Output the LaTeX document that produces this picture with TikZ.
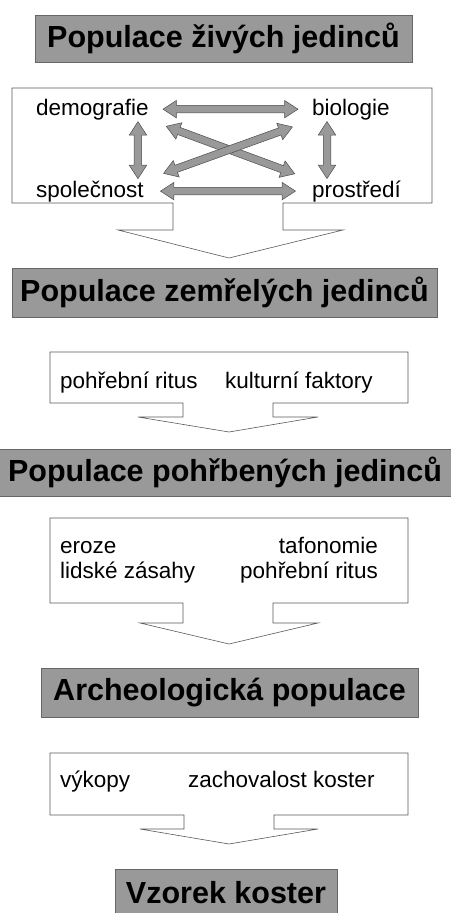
\documentclass[tikz,border=0pt]{standalone}
\usepackage{fontspec}
\setmainfont{Liberation Sans}
\usetikzlibrary{shapes.arrows}

\tikzset{
  titlebox/.style={draw=black!60, fill=black!40, inner sep=0pt,
    font=\bfseries\fontsize{30.5}{30}\selectfont},
  lbl/.style={inner sep=0pt, font=\fontsize{22.5}{27}\selectfont},
  outline/.style={draw=black!65, line width=0.6pt},
  fatarrow/.style={double arrow, draw=black!70, fill=black!40, inner sep=3.5pt,
    minimum width=17pt, double arrow head extend=5pt, double arrow tip angle=66,
    line width=0.5pt}
}

\begin{document}
\begin{tikzpicture}[x=1pt,y=-1pt]
            \useasboundingbox (0,0) rectangle (450,913);

            % titles
            \node[titlebox, minimum width=377pt, minimum height=47pt] (t1) at (223.5,38.5) {Populace živých jedinců};
            \node[titlebox, minimum width=425pt, minimum height=49pt] (t2) at (224.5,292.5) {Populace zemřelých jedinců};
            \node[titlebox, minimum width=454pt, minimum height=47pt] (t3) at (225,472.5) {Populace pohřbených jedinců};
            \node[titlebox, minimum width=377pt, minimum height=49pt] (t4) at (229.5,692.5) {Archeologická populace};
            \node[titlebox, minimum width=222pt, minimum height=48pt] (t5) at (226,893) {Vzorek koster};

            % boxes with arrows
            \draw[outline] (12,88) -- (432,88) -- (432,203) -- (283,203) -- (283,230) -- (343,230)
                -- (229,258) -- (118,230) -- (173,230) -- (173,203) -- (12,203) -- cycle;
            \draw[outline] (50,352) -- (408,352) -- (408,403) -- (273,403) -- (273,417) -- (318,417)
                -- (229,432) -- (138,417) -- (183,417) -- (183,403) -- (50,403) -- cycle;
            \draw[outline] (50,518) -- (408,518) -- (408,603) -- (273,603) -- (273,623) -- (318,623)
                -- (229,644) -- (140,623) -- (183,623) -- (183,603) -- (50,603) -- cycle;
            \draw[outline] (50,753) -- (408,753) -- (408,815) -- (274,815) -- (274,829) -- (318,829)
                -- (229,844) -- (140,829) -- (184,829) -- (184,815) -- (50,815) -- cycle;

            % factors
            \node[lbl, anchor=base west] (demo) at (36,115)  {demografie};
            \node[lbl, anchor=base west] (bio)  at (312,115) {biologie};
            \node[lbl, anchor=base west] (spol) at (36,197)  {společnost};
            \node[lbl, anchor=base west] (pros) at (312,197) {prostředí};

            \node[lbl, anchor=base west] (ritus)  at (60,388)  {pohřební ritus};
            \node[lbl, anchor=base west] (kult)   at (225,388) {kulturní faktory};

            \node[lbl, anchor=base west] (eroze)  at (60,553)  {eroze};
            \node[lbl, anchor=base east] (tafo)   at (378,553) {tafonomie};
            \node[lbl, anchor=base west] (lidske) at (60,578)  {lidské zásahy};
            \node[lbl, anchor=base east] (ritus2) at (378,578) {pohřební ritus};

            \node[lbl, anchor=base west] (vykopy) at (60,787)  {výkopy};
            \node[lbl, anchor=base west] (zachov) at (188,787) {zachovalost koster};

            % interactions
            \path (demo.east) -- node[fatarrow, sloped, minimum height=135pt] {} (bio.west);
            \path (spol.east) -- node[fatarrow, sloped, minimum height=135pt] {} (pros.west);
            \path (demo.south east) -- node[fatarrow, sloped, minimum height=137pt] {} (pros.north west);
            \path (spol.north east) -- node[fatarrow, sloped, minimum height=137pt] {} (bio.south west);
            \path ([xshift=-11pt]demo.south east) -- node[fatarrow, sloped, minimum height=57pt] {} ([xshift=-11pt]demo.south east |- spol.north);
            \path ([xshift=15pt]bio.south west) -- node[fatarrow, sloped, minimum height=57pt] {} ([xshift=15pt]pros.north west);
        \end{tikzpicture}
\end{document}
